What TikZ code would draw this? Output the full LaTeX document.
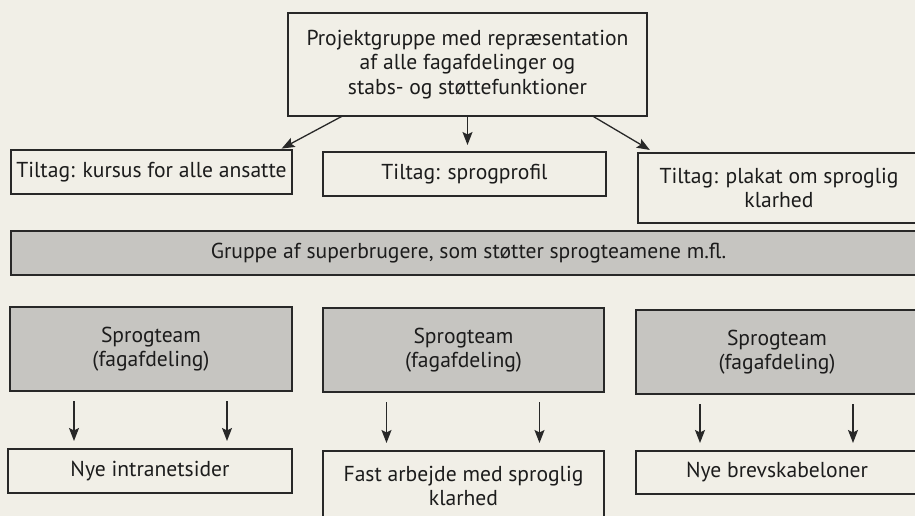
\documentclass[tikz,border=0pt]{standalone}
\usepackage{fontspec}
\setmainfont{PT Sans}
\usetikzlibrary{arrows.meta}
\definecolor{paper}{RGB}{241,239,231}
\definecolor{boxgray}{RGB}{198,197,193}
\definecolor{ink}{RGB}{40,40,40}
\definecolor{txt}{RGB}{28,28,28}
\begin{document}
\begin{tikzpicture}[x=1pt,y=-1pt,
  every node/.style={inner sep=0pt, outer sep=0pt},
  plainbox/.style={draw=ink, line width=1.5pt, rectangle, align=center,
    font=\fontsize{21.6}{24.5}\selectfont, text=txt},
  graybox/.style={plainbox, fill=boxgray},
  arr/.style={draw=ink, line width=1.3pt, -{Stealth[length=13pt,width=10pt,inset=2.5pt]}}]
\useasboundingbox (0,0) rectangle (915,516);
\clip (0,0) rectangle (915,516);
\fill[paper] (0,0) rectangle (915,516);

% top box
\node[plainbox, minimum width=359pt, minimum height=103pt] (top) at (467.5,64.5)
  {Projektgruppe med repræsentation\\af alle fagafdelinger og\\stabs- og støttefunktioner};

% tiltag row
\node[plainbox, minimum width=281pt, minimum height=44pt] (t1) at (151.5,172)
  {Tiltag: kursus for alle ansatte};
\node[plainbox, minimum width=283pt, minimum height=44pt] (t2) at (464.5,174)
  {Tiltag: sprogprofil};
\node[plainbox, minimum width=282pt, minimum height=70pt] (t3) at (779,188)
  {Tiltag: plakat om sproglig\\klarhed};

% superbrugere bar
\node[graybox, minimum width=915pt, minimum height=44pt] (sb) at (468.5,253)
  {Gruppe af superbrugere, som støtter sprogteamene m.fl.};

% sprogteam row
\node[graybox, minimum width=282pt, minimum height=84pt] (s1) at (151,349)
  {Sprogteam\\(fagafdeling)};
\node[graybox, minimum width=281pt, minimum height=84pt] (s2) at (463.5,350)
  {Sprogteam\\(fagafdeling)};
\node[graybox, minimum width=282pt, minimum height=84pt] (s3) at (777,352)
  {Sprogteam\\(fagafdeling)};

% bottom row
\node[plainbox, minimum width=284pt, minimum height=44pt] (b1) at (150,471)
  {Nye intranetsider};
\node[plainbox, minimum width=281pt, minimum height=70pt] (b2) at (463.5,486)
  {Fast arbejde med sproglig\\klarhed};
\node[plainbox, minimum width=282pt, minimum height=43pt] (b3) at (777,472.5)
  {Nye brevskabeloner};

% arrows from top box
\draw[arr, shorten >=3pt] ([xshift=-125pt]top.south) -- ([xshift=127.5pt]t1.north);
\draw[arr, shorten >=7pt] (top.south) -- (top.south |- t2.north);
\draw[arr, shorten >=6pt] ([xshift=125pt]top.south) -- ([xshift=-124pt]t3.north);

% arrows from sprogteam boxes
\foreach \s/\b in {s1/b1, s2/b2, s3/b3}{
  \draw[arr, shorten <=10pt, shorten >=8pt] ([xshift=-77pt]\s.south) -- ([xshift=-77pt]\s.south |- \b.north);
  \draw[arr, shorten <=10pt, shorten >=8pt] ([xshift=76pt]\s.south) -- ([xshift=76pt]\s.south |- \b.north);
}
\end{tikzpicture}
\end{document}
